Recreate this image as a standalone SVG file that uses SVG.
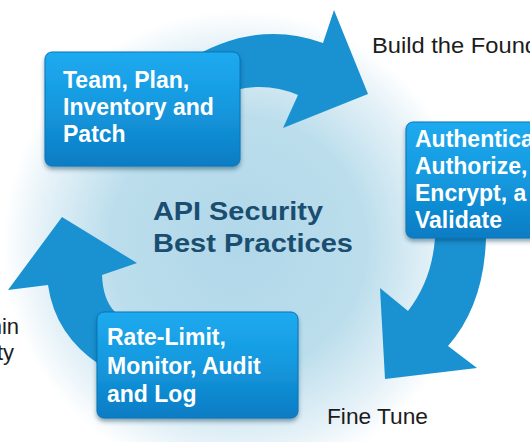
<svg xmlns="http://www.w3.org/2000/svg" width="530" height="442" viewBox="0 0 530 442">
  <defs>
    <radialGradient id="bg" cx="238" cy="245" r="235" gradientUnits="userSpaceOnUse">
      <stop offset="0" stop-color="#b0d7e9"/>
      <stop offset="0.55" stop-color="#bcdeec"/>
      <stop offset="0.85" stop-color="#e6f2f8"/>
      <stop offset="1" stop-color="#ffffff"/>
    </radialGradient>
    <linearGradient id="boxg" x1="0" y1="0" x2="0" y2="1">
      <stop offset="0" stop-color="#1eaaf0"/>
      <stop offset="0.5" stop-color="#1598de"/>
      <stop offset="1" stop-color="#0a7cc4"/>
    </linearGradient>
    <filter id="sh" x="-10%" y="-10%" width="120%" height="130%">
      <feDropShadow dx="0" dy="3" stdDeviation="2" flood-color="#0b3c5c" flood-opacity="0.45"/>
    </filter>
    <style>
      .arrow { fill: #1a91d1; }
      .box { fill: url(#boxg); stroke: #0b74b6; stroke-width: 1; filter: url(#sh); }
      .bt { font-family: "Liberation Sans", Arial, sans-serif; font-weight: bold; font-size: 23px; fill: #ffffff; }
      .ct { font-family: "Liberation Sans", Arial, sans-serif; font-weight: bold; font-size: 26px; fill: #1a4e70; }
      .lb { font-family: "Liberation Sans", Arial, sans-serif; font-size: 22px; fill: #1c1c1c; }
    </style>
  </defs>
  <rect width="530" height="442" fill="#ffffff"/>
  <rect width="530" height="442" fill="url(#bg)"/>

  <g id="connectors">
    <path class="arrow" d="M 185 62 Q 255 18 323 43 L 334 10 L 368 94 L 283 128 L 298 95 Q 268 82 235 90 Z"/>
    <path class="arrow" d="M 435 230 L 487 230 L 486 238 Q 484 305 448 346 L 477 368 L 385 379 L 380 288 L 408 311 Q 432 280 435 238 Z"/>
    <path class="arrow" d="M 110 320 L 100 365 Q 55 335 48 285 L 8 290 L 62 217 L 137 263 L 102 275 Q 103 300 115 312 Z"/>
  </g>

  <g id="node-team">
    <rect class="box" x="45" y="52" width="195" height="114" rx="7"/>
    <text class="bt" x="63" y="88">Team, Plan,</text>
    <text class="bt" x="63" y="115">Inventory and</text>
    <text class="bt" x="63" y="142">Patch</text>
  </g>

  <g id="node-auth">
    <rect class="box" x="406" y="122" width="140" height="116" rx="7"/>
    <text class="bt" x="415" y="147">Authentica</text>
    <text class="bt" x="415" y="174">Authorize,</text>
    <text class="bt" x="415" y="201">Encrypt, a</text>
    <text class="bt" x="415" y="228">Validate</text>
  </g>

  <g id="node-rate">
    <rect class="box" x="97" y="312" width="201" height="106" rx="7"/>
    <text class="bt" x="107" y="345">Rate-Limit,</text>
    <text class="bt" x="107" y="374">Monitor, Audit</text>
    <text class="bt" x="107" y="402">and Log</text>
  </g>

  <g id="center">
    <text class="ct" x="153" y="220" textLength="170" lengthAdjust="spacingAndGlyphs">API Security</text>
    <text class="ct" x="153" y="252" textLength="200" lengthAdjust="spacingAndGlyphs">Best Practices</text>
  </g>

  <g id="labels">
    <text class="lb" x="372" y="53" textLength="166" lengthAdjust="spacingAndGlyphs">Build the Found</text>
    <text class="lb" x="327" y="424" textLength="101" lengthAdjust="spacingAndGlyphs">Fine Tune</text>
    <text class="lb" x="19" y="334" text-anchor="end">nin</text>
    <text class="lb" x="14" y="360" text-anchor="end">ty</text>
  </g>
</svg>
